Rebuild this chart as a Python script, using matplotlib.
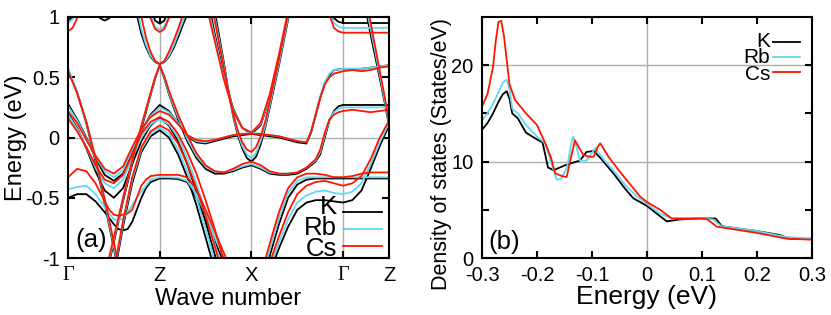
import matplotlib
matplotlib.use('Agg')
import matplotlib.pyplot as plt

plt.rcParams['font.family'] = ['Liberation Sans', 'DejaVu Sans']
plt.rcParams['axes.unicode_minus'] = False

# ---- band structure (k in units of path segments: G=0, Z=1, X=2, G=3, Z=3.5)
kpath_pos = [0, 1, 2, 3, 3.5]
kpath_lab = ['Γ', 'Z', 'X', 'Γ', 'Z']

A_k = [0, 0.1, 0.2, 0.3, 0.4, 0.5, 0.6]
A_K = [0.57, 0.37, 0.12, -0.2, -0.55, -0.92, -1.3]
A_Rb = [0.57, 0.38, 0.13, -0.18, -0.53, -0.9, -1.28]
A_Cs = [0.55, 0.37, 0.13, -0.17, -0.51, -0.87, -1.25]

G1_k = [0, 0.05, 0.1, 0.15]
G1_K = [0.97, 1.0, 1.08, 1.2]
G1_Rb = [0.95, 0.98, 1.06, 1.18]
G1_Cs = [0.88, 0.91, 0.99, 1.1]

G2_k = [0.3, 0.35, 0.4, 0.45, 0.5]
G2_K = [1.06, 0.99, 0.97, 0.99, 1.06]
G2_Rb = [1.12, 1.06, 1.04, 1.06, 1.12]
G2_Cs = [1.15, 1.09, 1.07, 1.09, 1.15]

G3_k = [0.85, 0.9, 0.95, 1.0, 1.05, 1.1, 1.15]
G3_K = [1.25, 1.08, 0.97, 0.945, 0.97, 1.08, 1.25]
G3_Rb = [1.15, 1.01, 0.92, 0.895, 0.92, 1.01, 1.15]
G3_Cs = [1.12, 0.99, 0.90, 0.875, 0.90, 0.99, 1.12]

CU_k = [0.7, 0.75, 0.8, 0.85, 0.9, 0.95, 1.0, 1.05, 1.1, 1.15, 1.2, 1.25, 1.3, 1.35]
CU_K = [1.3, 1.02, 0.86, 0.75, 0.67, 0.625, 0.61, 0.625, 0.67, 0.74, 0.83, 0.93, 1.02, 1.15]
CU_Rb = [1.25, 1.08, 0.9, 0.77, 0.68, 0.63, 0.61, 0.63, 0.68, 0.76, 0.86, 0.96, 1.06, 1.18]
CU_Cs = [1.2, 1.15, 1.0, 0.83, 0.71, 0.635, 0.61, 0.635, 0.71, 0.8, 0.9, 1.01, 1.12, 1.25]

C0_k = [0.4, 0.5, 0.6, 0.7, 0.8, 0.9, 0.95, 1.0, 1.05, 1.1, 1.2, 1.3, 1.4, 1.5, 1.6,
        1.7, 1.8, 1.9, 2.0, 2.1, 2.2, 2.3, 2.4, 2.5, 2.6, 2.7, 2.75, 2.8, 2.85, 2.9,
        2.95, 3.0, 3.1, 3.2, 3.3, 3.4, 3.5]
C0_K = [-1.2, -0.87, -0.53, -0.22, 0.07, 0.35, 0.49, 0.6, 0.49, 0.36, 0.15, -0.03, -0.17,
        -0.26, -0.3, -0.3, -0.28, -0.25, -0.23, -0.26, -0.3, -0.31, -0.31, -0.3, -0.26,
        -0.2, -0.14, 0.0, 0.14, 0.22, 0.26, 0.27, 0.27, 0.27, 0.27, 0.27, 0.27]
C0_Rb = [-1.18, -0.85, -0.51, -0.2, 0.09, 0.36, 0.5, 0.6, 0.5, 0.37, 0.17, -0.01, -0.15,
         -0.24, -0.28, -0.29, -0.27, -0.24, -0.22, -0.25, -0.29, -0.3, -0.3, -0.29, -0.25,
         -0.19, -0.12, 0.02, 0.15, 0.21, 0.24, 0.25, 0.25, 0.25, 0.25, 0.25, 0.25]
C0_Cs = [-1.15, -0.83, -0.5, -0.19, 0.1, 0.37, 0.5, 0.6, 0.51, 0.39, 0.19, 0.02, -0.13,
         -0.23, -0.28, -0.29, -0.26, -0.22, -0.2, -0.23, -0.28, -0.3, -0.3, -0.29, -0.25,
         -0.18, -0.1, 0.04, 0.15, 0.19, 0.21, 0.22, 0.23, 0.22, 0.21, 0.22, 0.23]

D1_k = [0, 0.1, 0.2, 0.3, 0.4, 0.5, 0.6, 0.7, 0.8, 0.9, 1.0, 1.1, 1.2, 1.3, 1.4, 1.5,
        1.6, 1.7, 1.8, 1.9, 2.0, 2.1, 2.2, 2.3, 2.4, 2.5, 2.6, 2.65, 2.7, 2.75, 2.8,
        2.85, 2.9, 3.0, 3.1, 3.2, 3.3, 3.4, 3.5]
D1_K = [0.28, 0.15, 0.0, -0.17, -0.31, -0.36, -0.3, -0.13, 0.05, 0.19, 0.27, 0.22, 0.12,
        0.01, -0.04, -0.05, -0.03, -0.01, 0.01, 0.02, 0.03, 0.02, 0.01, 0.0, -0.02, -0.04,
        -0.05, 0.04, 0.18, 0.33, 0.45, 0.52, 0.56, 0.57, 0.57, 0.57, 0.58, 0.59, 0.6]
D1_Rb = [0.26, 0.14, -0.01, -0.16, -0.28, -0.33, -0.27, -0.1, 0.06, 0.18, 0.25, 0.21, 0.12,
         0.02, -0.03, -0.04, -0.02, 0.0, 0.02, 0.03, 0.04, 0.03, 0.02, 0.01, -0.01, -0.03,
         -0.04, 0.05, 0.19, 0.34, 0.46, 0.53, 0.56, 0.57, 0.57, 0.57, 0.58, 0.59, 0.6]
D1_Cs = [0.22, 0.12, -0.02, -0.15, -0.26, -0.3, -0.24, -0.08, 0.07, 0.17, 0.22, 0.19, 0.11,
         0.02, -0.02, -0.03, -0.02, 0.0, 0.02, 0.03, 0.03, 0.03, 0.02, 0.01, -0.01, -0.03,
         -0.04, 0.05, 0.19, 0.33, 0.44, 0.5, 0.53, 0.55, 0.56, 0.55, 0.56, 0.58, 0.59]

D2_k = [0, 0.1, 0.2, 0.3, 0.4, 0.5, 0.6, 0.7, 0.8, 0.9, 1.0, 1.1, 1.2, 1.3, 1.4, 1.5,
        1.6, 1.7, 1.8]
D2_K = [0.2, 0.08, -0.09, -0.28, -0.44, -0.5, -0.42, -0.22, -0.03, 0.1, 0.16, 0.1, -0.03,
        -0.22, -0.45, -0.7, -0.97, -1.25, -1.5]
D2_Rb = [0.19, 0.07, -0.08, -0.25, -0.38, -0.42, -0.35, -0.17, 0.0, 0.11, 0.15, 0.11, 0.0,
         -0.17, -0.38, -0.62, -0.88, -1.15, -1.4]
D2_Cs = [0.16, 0.05, -0.08, -0.23, -0.35, -0.38, -0.31, -0.14, 0.03, 0.13, 0.17, 0.13, 0.03,
         -0.12, -0.3, -0.52, -0.76, -1.02, -1.3]

D3_k = [0.5, 0.55, 0.6, 0.7, 0.8, 0.9, 1.0, 1.1, 1.2, 1.3, 1.4, 1.5, 1.6, 1.7]
D3_K = [-1.15, -0.95, -0.74, -0.38, -0.12, 0.01, 0.06, 0.0, -0.14, -0.33, -0.56, -0.83, -1.1, -1.4]
D3_Rb = [-1.12, -0.92, -0.71, -0.35, -0.1, 0.03, 0.08, 0.03, -0.1, -0.28, -0.5, -0.76, -1.03, -1.3]
D3_Cs = [-1.1, -0.9, -0.69, -0.33, -0.08, 0.05, 0.1, 0.06, -0.05, -0.22, -0.42, -0.65, -0.9, -1.17]

C_k = [0, 0.1, 0.2, 0.3, 0.4, 0.45, 0.5, 0.55, 0.6, 0.65, 0.7, 0.75, 0.8, 0.85, 0.9,
       1.0, 1.1, 1.2, 1.3, 1.4, 1.5, 1.6, 1.7, 1.8]
C_K = [-0.5, -0.47, -0.47, -0.53, -0.62, -0.67, -0.72, -0.76, -0.77, -0.76, -0.7, -0.6,
       -0.5, -0.42, -0.37, -0.34, -0.34, -0.345, -0.37, -0.5, -0.68, -0.86, -1.04, -1.2]
C_Rb = [-0.43, -0.41, -0.4, -0.47, -0.58, -0.63, -0.68, -0.69, -0.67, -0.62, -0.56, -0.5,
        -0.45, -0.4, -0.35, -0.33, -0.33, -0.335, -0.36, -0.47, -0.64, -0.82, -1.0, -1.18]
C_Cs = [-0.33, -0.26, -0.28, -0.38, -0.53, -0.6, -0.64, -0.65, -0.64, -0.63, -0.6, -0.5,
        -0.4, -0.35, -0.32, -0.31, -0.31, -0.31, -0.33, -0.43, -0.6, -0.78, -0.96, -1.14]

XU_k = [1.5, 1.55, 1.6, 1.7, 1.8, 1.9, 2.0, 2.1, 2.2, 2.3, 2.4, 2.45]
XU_K = [1.25, 1.05, 0.86, 0.52, 0.24, 0.08, 0.03, 0.1, 0.33, 0.65, 1.02, 1.2]
XU_Rb = [1.2, 1.0, 0.83, 0.5, 0.23, 0.08, 0.04, 0.11, 0.34, 0.66, 1.02, 1.2]
XU_Cs = [1.15, 0.96, 0.8, 0.48, 0.22, 0.08, 0.04, 0.12, 0.36, 0.69, 1.05, 1.22]

XV_k = [1.55, 1.6, 1.7, 1.75, 1.8, 1.85, 1.9, 1.95, 2.0, 2.05, 2.1, 2.15, 2.2, 2.3, 2.4, 2.5]
XV_K = [1.25, 1.05, 0.62, 0.38, 0.18, 0.02, -0.09, -0.17, -0.2, -0.16, -0.06, 0.08, 0.25, 0.6, 0.98, 1.3]
XV_Rb = [1.2, 1.0, 0.6, 0.38, 0.19, 0.04, -0.07, -0.14, -0.17, -0.13, -0.03, 0.1, 0.27, 0.62, 1.0, 1.3]
XV_Cs = [1.15, 0.97, 0.58, 0.38, 0.2, 0.06, -0.04, -0.1, -0.12, -0.08, 0.01, 0.13, 0.3, 0.65, 1.03, 1.35]

U_k = [2.1, 2.2, 2.3, 2.4, 2.5, 2.6, 2.7, 2.8, 2.9, 3.0, 3.1, 3.2, 3.3, 3.4, 3.5]
U_K = [-1.25, -0.98, -0.72, -0.5, -0.39, -0.35, -0.34, -0.34, -0.34, -0.34, -0.34, -0.34, -0.34, -0.34, -0.34]
U_Rb = [-1.2, -0.93, -0.67, -0.46, -0.36, -0.33, -0.33, -0.33, -0.33, -0.33, -0.33, -0.33, -0.33, -0.33, -0.33]
U_Cs = [-1.15, -0.88, -0.62, -0.42, -0.33, -0.3, -0.3, -0.31, -0.33, -0.33, -0.32, -0.3, -0.29, -0.29, -0.29]

L_k = [2.2, 2.3, 2.4, 2.5, 2.6, 2.7, 2.8, 2.9, 3.0, 3.1, 3.2, 3.3, 3.4, 3.5]
L_K = [-1.12, -0.92, -0.74, -0.6, -0.54, -0.52, -0.52, -0.53, -0.54, -0.52, -0.44, -0.26, -0.07, 0.1]
L_Rb = [-1.08, -0.87, -0.68, -0.54, -0.48, -0.45, -0.44, -0.46, -0.47, -0.45, -0.38, -0.22, -0.04, 0.12]
L_Cs = [-1.04, -0.82, -0.62, -0.47, -0.4, -0.37, -0.36, -0.38, -0.4, -0.38, -0.32, -0.18, 0.0, 0.14]

F1_k = [2.8, 2.85, 2.9, 2.95, 3.0, 3.1, 3.2, 3.3, 3.4, 3.5]
F1_K = [1.3, 1.1, 0.99, 0.96, 0.95, 0.95, 0.95, 0.95, 0.95, 0.95]
F1_Rb = [1.25, 1.06, 0.95, 0.92, 0.91, 0.91, 0.91, 0.91, 0.91, 0.91]
F1_Cs = [1.2, 1.02, 0.91, 0.88, 0.87, 0.87, 0.87, 0.87, 0.87, 0.87]

G_k = [3.2, 3.25, 3.3, 3.35, 3.4, 3.45, 3.5]
G_K = [1.25, 1.05, 0.85, 0.67, 0.49, 0.3, 0.1]
G_Rb = [1.3, 1.1, 0.9, 0.71, 0.52, 0.32, 0.12]
G_Cs = [1.35, 1.15, 0.95, 0.75, 0.55, 0.35, 0.14]

bands = [
    (A_k, A_K, A_Rb, A_Cs), (G1_k, G1_K, G1_Rb, G1_Cs), (G2_k, G2_K, G2_Rb, G2_Cs),
    (G3_k, G3_K, G3_Rb, G3_Cs), (CU_k, CU_K, CU_Rb, CU_Cs), (C0_k, C0_K, C0_Rb, C0_Cs),
    (D1_k, D1_K, D1_Rb, D1_Cs), (D2_k, D2_K, D2_Rb, D2_Cs), (D3_k, D3_K, D3_Rb, D3_Cs),
    (C_k, C_K, C_Rb, C_Cs), (XU_k, XU_K, XU_Rb, XU_Cs), (XV_k, XV_K, XV_Rb, XV_Cs),
    (U_k, U_K, U_Rb, U_Cs), (L_k, L_K, L_Rb, L_Cs), (F1_k, F1_K, F1_Rb, F1_Cs),
    (G_k, G_K, G_Rb, G_Cs),
]

# ---- density of states
dos_E_K = [-0.3, -0.29, -0.28, -0.27, -0.262, -0.255, -0.25, -0.245, -0.235, -0.22, -0.2,
           -0.19, -0.18, -0.17, -0.15, -0.134, -0.122, -0.11, -0.097, -0.085, -0.06, -0.04,
           -0.025, 0.0, 0.02, 0.036, 0.06, 0.096, 0.125, 0.136, 0.16, 0.2, 0.24, 0.26, 0.3]
dos_K = [13.3, 14.0, 15.0, 16.2, 17.0, 17.3, 16.5, 15.0, 14.5, 13.0, 12.3, 12.0, 9.4, 9.1,
         9.6, 9.9, 10.1, 11.0, 11.1, 10.4, 8.7, 7.2, 6.2, 5.4, 4.5, 3.8, 4.0, 4.1, 4.1, 3.3,
         3.1, 2.8, 2.4, 2.0, 2.0]
dos_E_Rb = [-0.3, -0.29, -0.28, -0.27, -0.262, -0.255, -0.25, -0.245, -0.235, -0.22, -0.2,
            -0.185, -0.175, -0.164, -0.155, -0.145, -0.138, -0.134, -0.128, -0.122, -0.11,
            -0.094, -0.08, -0.06, -0.04, -0.019, 0.0, 0.024, 0.045, 0.1, 0.12, 0.135, 0.2,
            0.25, 0.3]
dos_Rb = [14.3, 15.0, 16.0, 17.2, 18.2, 18.5, 17.5, 15.5, 15.0, 13.8, 12.6, 11.9, 10.0,
          8.1, 8.3, 9.5, 11.8, 12.6, 11.5, 10.1, 10.1, 11.4, 10.3, 9.0, 7.6, 6.4, 5.6, 4.6,
          4.1, 4.1, 4.0, 3.3, 2.8, 2.2, 2.0]
dos_E_Cs = [-0.3, -0.29, -0.28, -0.275, -0.27, -0.265, -0.26, -0.255, -0.25, -0.24, -0.22,
            -0.2, -0.185, -0.175, -0.167, -0.155, -0.146, -0.14, -0.131, -0.124, -0.116,
            -0.105, -0.097, -0.09, -0.085, -0.07, -0.05, -0.03, -0.013, 0.0, 0.024, 0.045,
            0.1, 0.11, 0.127, 0.2, 0.254, 0.3]
dos_Cs = [15.7, 17.0, 19.8, 22.5, 24.5, 24.6, 23.0, 20.5, 18.0, 16.4, 15.0, 13.8, 11.9,
          10.5, 8.8, 8.5, 8.4, 10.0, 12.2, 11.5, 10.7, 10.5, 10.5, 11.5, 11.9, 10.5, 9.0,
          7.6, 6.4, 5.8, 5.0, 4.1, 4.1, 4.0, 3.25, 2.6, 2.0, 1.9]

names = ['K', 'Rb', 'Cs']
colors = ['#000000', '#62d8f2', '#ff1500']
grid_c = '#a8b0b0'
lw = 1.3

fig = plt.figure(figsize=(8.31, 3.15), dpi=100)
ax1 = fig.add_axes([68/831, 57/315, 321/831, 241/315])
ax2 = fig.add_axes([482/831, 57/315, 330/831, 241/315])

# panel (a)
for p in kpath_pos[1:-1]:
    ax1.axvline(p, color=grid_c, lw=1, zorder=0)
ax1.axhline(0, color=grid_c, lw=1, zorder=0)
for ci in range(3):
    for b in bands:
        ax1.plot(b[0], b[ci + 1], color=colors[ci], lw=lw)
ax1.set_xlim(0, 3.5)
ax1.set_ylim(-1, 1)
ax1.set_xticks(kpath_pos)
ax1.set_xticklabels(kpath_lab)
for t in ax1.get_xticklabels():
    if t.get_text() == 'Γ':
        t.set_fontfamily(['Liberation Serif', 'DejaVu Serif'])
ax1.set_yticks([-1, -0.5, 0, 0.5, 1])
ax1.set_yticklabels(['-1', '-0.5', '0', '0.5', '1'])
ax1.set_xlabel('Wave number', fontsize=17, labelpad=2)
ax1.set_ylabel('Energy (eV)', fontsize=17)
ax1.yaxis.set_label_coords(-0.127, 0.5)
ax1.text(0.022, 0.075, '(a)', transform=ax1.transAxes, fontsize=18.5, va='center')

leg1_text_y = [0.212, 0.124, 0.037]
leg1_line_y = [0.191, 0.120, 0.050]
for ci in range(3):
    ax1.text(0.838, leg1_text_y[ci], names[ci], transform=ax1.transAxes,
             fontsize=18.5, ha='right', va='center')
    ax1.plot([0.857, 0.978], [leg1_line_y[ci]] * 2, transform=ax1.transAxes,
             color=colors[ci], lw=lw)

# panel (b)
ax2.axvline(0, color=grid_c, lw=1, zorder=0)
ax2.axhline(10, color=grid_c, lw=1, zorder=0)
ax2.axhline(20, color=grid_c, lw=1, zorder=0)
dos_E = [dos_E_K, dos_E_Rb, dos_E_Cs]
dos_D = [dos_K, dos_Rb, dos_Cs]
for ci in range(3):
    ax2.plot(dos_E[ci], dos_D[ci], color=colors[ci], lw=lw)
ax2.set_xlim(-0.3, 0.3)
ax2.set_ylim(0, 25)
ax2.set_xticks([-0.3, -0.2, -0.1, 0, 0.1, 0.2, 0.3])
ax2.set_xticklabels(['-0.3', '-0.2', '-0.1', '0', '0.1', '0.2', '0.3'])
ax2.set_yticks([0, 10, 20])
ax2.set_yticks([5, 15], minor=True)
ax2.set_xlabel('Energy (eV)', fontsize=19, labelpad=0)
ax2.set_ylabel('Density of states (States/eV)', fontsize=15.5)
ax2.yaxis.set_label_coords(-0.092, 0.43)
ax2.text(0.018, 0.066, '(b)', transform=ax2.transAxes, fontsize=18.5, va='center')

leg2_text_y = [0.900, 0.830, 0.763]
leg2_line_y = [0.896, 0.834, 0.772]
for ci in range(3):
    ax2.text(0.873, leg2_text_y[ci], names[ci], transform=ax2.transAxes,
             fontsize=15, ha='right', va='center')
    ax2.plot([0.882, 0.964], [leg2_line_y[ci]] * 2, transform=ax2.transAxes,
             color=colors[ci], lw=lw)

for ax in (ax1, ax2):
    for s in ax.spines.values():
        s.set_linewidth(1.5)
    ax.tick_params(which='both', direction='in', top=True, right=True,
                   length=5, width=1.5, labelsize=14.5, pad=6)

fig.savefig('out.png', dpi=100)
